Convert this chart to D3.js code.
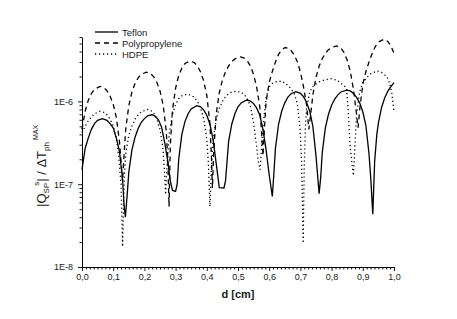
<!DOCTYPE html>
<html>
<head>
<meta charset="utf-8">
<script src="https://cdn.jsdelivr.net/npm/d3@7"></script>
<style>
  body { margin: 0; background: #fff; }
  text { font-family: "Liberation Sans", Arial, sans-serif; fill: #1a1a1a; }
</style>
</head>
<body>
<svg></svg>
<script>
var width = 457;
var height = 319;

//series names (legend order)
var seriesNames = ['Teflon', 'Polypropylene', 'HDPE'];

//[d in cm, |Q_SP^s| / dT_ph^MAX]
var teflon = [
  [0, 1.5e-7], [0.01, 2.7e-7], [0.02, 3.6e-7], [0.03, 4.6e-7], [0.04, 5.4e-7], [0.05, 5.9e-7], [0.065, 6.2e-7],
  [0.08, 5.9e-7], [0.09, 5.4e-7], [0.10, 4.8e-7], [0.11, 3.6e-7], [0.12, 2.5e-7], [0.13, 1.15e-7], [0.135, 5.5e-8], [0.139, 4.0e-8],
  [0.145, 7.6e-8], [0.15, 1.4e-7], [0.16, 2.6e-7], [0.17, 3.7e-7], [0.18, 4.7e-7], [0.19, 5.6e-7], [0.20, 6.2e-7], [0.21, 6.7e-7],
  [0.224, 6.9e-7], [0.235, 6.6e-7], [0.245, 6.0e-7], [0.255, 4.9e-7], [0.265, 3.2e-7], [0.275, 1.9e-7], [0.283, 1.1e-7], [0.29, 8.4e-8], [0.30, 8.2e-8],
  [0.305, 1.0e-7], [0.31, 2.0e-7], [0.32, 4.0e-7], [0.33, 5.7e-7], [0.34, 7.1e-7], [0.35, 8.1e-7], [0.368, 8.9e-7],
  [0.38, 8.6e-7], [0.39, 7.9e-7], [0.40, 6.8e-7], [0.41, 5.3e-7], [0.42, 3.5e-7], [0.43, 1.8e-7], [0.44, 9.1e-8], [0.455, 9.0e-8],
  [0.46, 1.1e-7], [0.47, 3.3e-7], [0.48, 5.3e-7], [0.49, 7.1e-7], [0.50, 8.6e-7], [0.51, 9.6e-7], [0.528, 1.04e-6],
  [0.54, 1.01e-6], [0.55, 9.4e-7], [0.56, 8.3e-7], [0.57, 6.8e-7], [0.58, 4.6e-7], [0.59, 2.6e-7], [0.60, 1.3e-7], [0.61, 7.1e-8],
  [0.615, 1.35e-7], [0.62, 2.7e-7], [0.63, 5.3e-7], [0.64, 7.6e-7], [0.65, 9.6e-7], [0.66, 1.13e-6], [0.67, 1.24e-6], [0.686, 1.31e-6],
  [0.70, 1.25e-6], [0.71, 1.14e-6], [0.72, 9.7e-7], [0.73, 7.6e-7], [0.74, 5.0e-7], [0.75, 2.2e-7], [0.76, 7.7e-8],
  [0.765, 1.2e-7], [0.77, 2.4e-7], [0.78, 4.8e-7], [0.79, 7.0e-7], [0.80, 9.0e-7], [0.81, 1.07e-6], [0.82, 1.2e-6], [0.83, 1.3e-6], [0.848, 1.37e-6],
  [0.86, 1.34e-6], [0.87, 1.25e-6], [0.88, 1.12e-6], [0.89, 9.6e-7], [0.90, 7.5e-7], [0.91, 5.1e-7], [0.92, 2.3e-7], [0.926, 1.1e-7], [0.932, 4.35e-8],
  [0.938, 1.9e-7], [0.945, 4.0e-7], [0.95, 5.5e-7], [0.96, 8.4e-7], [0.97, 1.1e-6], [0.98, 1.32e-6], [0.99, 1.51e-6], [1.0, 1.69e-6]
];

var polypropylene = [
  [0, 4.6e-7], [0.01, 7.6e-7], [0.02, 1.03e-6], [0.03, 1.24e-6], [0.04, 1.4e-6], [0.058, 1.52e-6], [0.07, 1.47e-6], [0.08, 1.35e-6],
  [0.09, 1.16e-6], [0.10, 9.3e-7], [0.11, 6.4e-7], [0.12, 3.3e-7], [0.125, 1.9e-7], [0.13, 1.1e-7],
  [0.135, 2.3e-7], [0.14, 4.6e-7], [0.15, 8.9e-7], [0.16, 1.3e-6], [0.17, 1.65e-6], [0.18, 1.93e-6], [0.19, 2.13e-6], [0.207, 2.26e-6],
  [0.22, 2.17e-6], [0.23, 1.98e-6], [0.24, 1.7e-6], [0.25, 1.34e-6], [0.26, 9.1e-7], [0.27, 4.4e-7], [0.275, 2.0e-7], [0.279, 5.4e-8],
  [0.283, 2.9e-7], [0.29, 7.9e-7], [0.30, 1.45e-6], [0.31, 2.05e-6], [0.32, 2.53e-6], [0.33, 2.87e-6], [0.346, 3.08e-6],
  [0.36, 2.94e-6], [0.37, 2.67e-6], [0.38, 2.27e-6], [0.39, 1.77e-6], [0.40, 1.18e-6], [0.41, 5.4e-7], [0.415, 2.1e-7], [0.418, 9e-8],
  [0.422, 2.4e-7], [0.43, 7.0e-7], [0.44, 1.27e-6], [0.45, 1.81e-6], [0.46, 2.28e-6], [0.47, 2.69e-6], [0.48, 3.02e-6], [0.49, 3.26e-6], [0.509, 3.44e-6],
  [0.52, 3.34e-6], [0.53, 3.08e-6], [0.54, 2.66e-6], [0.55, 2.12e-6], [0.56, 1.48e-6], [0.57, 8.5e-7], [0.575, 4.5e-7], [0.58, 2.2e-7],
  [0.585, 4.9e-7], [0.59, 9.8e-7], [0.60, 1.7e-6], [0.61, 2.3e-6], [0.62, 3.0e-6], [0.63, 3.7e-6], [0.64, 4.2e-6], [0.651, 4.48e-6],
  [0.66, 4.4e-6], [0.67, 4.12e-6], [0.68, 3.66e-6], [0.69, 3.03e-6], [0.70, 2.27e-6], [0.71, 1.5e-6], [0.72, 9e-7], [0.727, 4.6e-7],
  [0.733, 7e-7], [0.74, 1.2e-6], [0.75, 1.96e-6], [0.76, 2.66e-6], [0.77, 3.28e-6], [0.78, 3.8e-6], [0.79, 4.22e-6], [0.80, 4.5e-6], [0.816, 4.68e-6],
  [0.83, 4.4e-6], [0.84, 3.89e-6], [0.85, 3.15e-6], [0.86, 2.3e-6], [0.87, 1.4e-6], [0.88, 7e-7], [0.885, 4.8e-7],
  [0.89, 8e-7], [0.90, 1.6e-6], [0.91, 2.3e-6], [0.92, 3.0e-6], [0.93, 3.8e-6], [0.94, 4.6e-6], [0.95, 5.2e-6], [0.968, 5.65e-6],
  [0.98, 5.3e-6], [0.99, 4.7e-6], [1.0, 3.8e-6]
];

var hdpe = [
  [0, 4.2e-7], [0.01, 5.0e-7], [0.02, 5.8e-7], [0.03, 6.5e-7], [0.04, 7.1e-7], [0.058, 7.6e-7], [0.07, 7.4e-7], [0.08, 6.9e-7],
  [0.09, 6.1e-7], [0.10, 5.1e-7], [0.11, 3.6e-7], [0.118, 2.1e-7], [0.125, 1.0e-7], [0.13, 1.76e-8],
  [0.135, 1.1e-7], [0.14, 2.3e-7], [0.15, 3.9e-7], [0.16, 5.0e-7], [0.17, 6.1e-7], [0.18, 6.9e-7], [0.19, 7.5e-7], [0.21, 8.0e-7],
  [0.22, 7.8e-7], [0.23, 7.2e-7], [0.24, 6.1e-7], [0.25, 4.6e-7], [0.26, 2.6e-7], [0.265, 1.3e-7], [0.268, 7.5e-8],
  [0.272, 1.6e-7], [0.28, 4.2e-7], [0.29, 7.0e-7], [0.30, 9.2e-7], [0.31, 1.08e-6], [0.32, 1.17e-6], [0.336, 1.22e-6],
  [0.35, 1.19e-6], [0.36, 1.12e-6], [0.37, 1.0e-6], [0.38, 8.3e-7], [0.39, 6.2e-7], [0.40, 3.5e-7], [0.405, 1.8e-7], [0.41, 5.4e-8],
  [0.415, 1.7e-7], [0.42, 3.3e-7], [0.43, 6.0e-7], [0.44, 8.2e-7], [0.45, 1.0e-6], [0.46, 1.14e-6], [0.47, 1.24e-6], [0.48, 1.3e-6], [0.496, 1.33e-6],
  [0.51, 1.29e-6], [0.52, 1.21e-6], [0.53, 1.07e-6], [0.54, 8.7e-7], [0.55, 5.5e-7], [0.56, 2.8e-7], [0.565, 1.9e-7], [0.571, 1.5e-7],
  [0.575, 2.6e-7], [0.58, 5.0e-7], [0.59, 1.1e-6], [0.60, 1.5e-6], [0.61, 1.65e-6], [0.62, 1.72e-6], [0.64, 1.76e-6],
  [0.655, 1.62e-6], [0.667, 1.46e-6], [0.68, 1.25e-6], [0.69, 9.5e-7], [0.699, 4.6e-7], [0.704, 1.8e-7], [0.709, 1.94e-8],
  [0.712, 1.5e-7], [0.716, 5e-7], [0.72, 8.5e-7], [0.73, 1.3e-6], [0.74, 1.52e-6], [0.75, 1.63e-6], [0.76, 1.72e-6], [0.78, 1.83e-6], [0.80, 1.88e-6],
  [0.82, 1.78e-6], [0.835, 1.6e-6], [0.848, 1.45e-6], [0.853, 8e-7], [0.859, 3e-7], [0.865, 1.8e-7], [0.87, 1.27e-7],
  [0.875, 3e-7], [0.88, 7e-7], [0.89, 1.3e-6], [0.90, 1.7e-6], [0.913, 1.94e-6], [0.925, 2.15e-6], [0.945, 2.33e-6],
  [0.96, 2.25e-6], [0.977, 2.0e-6], [0.985, 1.7e-6], [0.993, 1.28e-6], [1.0, 7.4e-7]
];

//tick values and labels
var xTickValues = [0, 0.1, 0.2, 0.3, 0.4, 0.5, 0.6, 0.7, 0.8, 0.9, 1.0];
var yTickValues = [1e-8, 1e-7, 1e-6];
var yTickLabels = ['1E-8', '1E-7', '1E-6'];

//plot box edges (not "top": that name is taken by window.top)
var plotLeft = 82, plotRight = 394, plotTop = 37, plotBottom = 267;

var x = d3.scaleLinear().domain([0, 1]).range([plotLeft, plotRight]);
var y = d3.scaleLog().domain([1e-8, 6e-6]).range([plotBottom, plotTop]);

var svg = d3.select('svg')
    .attr('width', width)
    .attr('height', height);

svg.append('rect')
    .attr('width', width)
    .attr('height', height)
    .attr('fill', '#fff');

//minor ticks: x every 1/80, y 2..9 of each decade
var xMinor = d3.range(0, 81).map(i => i / 80).filter(v => Math.abs(v * 10 - Math.round(v * 10)) > 1e-6);
var yMinor = [];
[-8, -7, -6].forEach(function(e) {
    for (var k = 2; k <= 9; k++) {
        var v = k * Math.pow(10, e);
        if (v <= 6.01e-6) yMinor.push(v);
    }
});

var xAxis = svg.append('g')
    .attr('transform', `translate(0, ${plotBottom})`)
    .call(d3.axisBottom(x)
        .tickValues(xTickValues)
        .tickSize(4)
        .tickSizeOuter(0)
        .tickPadding(3)
        .tickFormat(d => d3.format('.1f')(d).replace('.', ',')));

svg.append('g')
    .attr('transform', `translate(0, ${plotBottom})`)
    .call(d3.axisBottom(x).tickValues(xMinor).tickSize(2.5).tickSizeOuter(0).tickFormat(''))
    .select('.domain').remove();

var yAxis = svg.append('g')
    .attr('transform', `translate(${plotLeft}, 0)`)
    .call(d3.axisLeft(y)
        .tickValues(yTickValues)
        .tickSize(4)
        .tickSizeOuter(0)
        .tickPadding(5)
        .tickFormat((d, i) => yTickLabels[i]));

svg.append('g')
    .attr('transform', `translate(${plotLeft}, 0)`)
    .call(d3.axisLeft(y).tickValues(yMinor).tickSize(2.5).tickSizeOuter(0).tickFormat(''))
    .select('.domain').remove();

svg.selectAll('.tick line').attr('stroke', '#000').attr('stroke-width', 0.9);
svg.selectAll('.domain').attr('stroke', '#000').attr('stroke-width', 1);
xAxis.selectAll('text').attr('font-size', 9).style('font-family', '"Liberation Sans", Arial, sans-serif').attr('fill', '#1a1a1a');
yAxis.selectAll('text').attr('font-size', 9).style('font-family', '"Liberation Sans", Arial, sans-serif').attr('fill', '#1a1a1a');

//curves
var line = d3.line()
    .x(d => x(d[0]))
    .y(d => y(d[1]));

var styles = [
    { data: teflon, dash: null },
    { data: polypropylene, dash: '5,4' },
    { data: hdpe, dash: '1.2,2.8' }
];

svg.append('g')
    .selectAll('path')
    .data(styles)
    .enter()
    .append('path')
        .attr('d', d => line(d.data))
        .attr('fill', 'none')
        .attr('stroke', '#000')
        .attr('stroke-width', 1.3)
        .attr('stroke-dasharray', d => d.dash);

//legend
var legend = svg.append('g')
    .selectAll('g')
    .data(seriesNames)
    .enter()
    .append('g')
    .attr('transform', (d, i) => `translate(95, ${32 + i * 11})`);

legend.append('line')
    .attr('x1', 0).attr('x2', 23)
    .attr('stroke', '#000')
    .attr('stroke-width', 1.3)
    .attr('stroke-dasharray', (d, i) => styles[i].dash);

legend.append('text')
    .attr('x', 27)
    .attr('y', 3.5)
    .attr('font-size', 9.5)
    .text(d => d);

//axis titles
svg.append('text')
    .attr('x', (plotLeft + plotRight) / 2)
    .attr('y', 298)
    .attr('text-anchor', 'middle')
    .attr('font-size', 11)
    .attr('font-weight', 'bold')
    .text('d [cm]');

var yTitle = svg.append('text')
    .attr('transform', 'translate(46, 207) rotate(-90)')
    .attr('font-size', 13);
yTitle.append('tspan').text('|Q');
yTitle.append('tspan').attr('font-size', 8).attr('dy', 3).text('SP');
yTitle.append('tspan').attr('font-size', 8).attr('dx', -3).attr('dy', -10).text('s');
yTitle.append('tspan').attr('dy', 7).text('| / ΔT');
yTitle.append('tspan').attr('font-size', 8).attr('dy', 3).text('ph');
yTitle.append('tspan').attr('font-size', 7).attr('dx', 2).attr('dy', -11).text('MAX');
</script>
</body>
</html>
